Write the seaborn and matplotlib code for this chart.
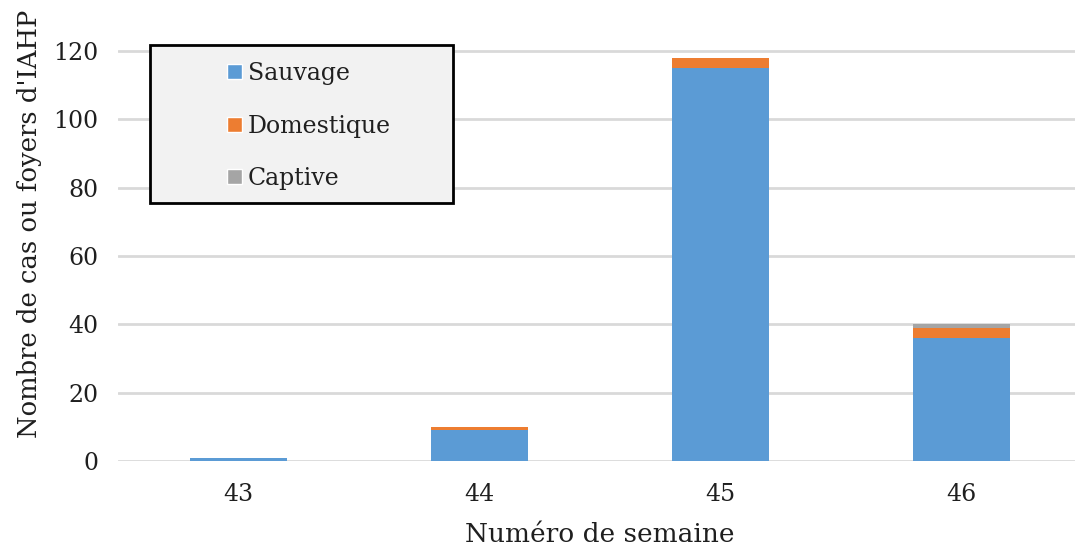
import matplotlib
matplotlib.use("Agg")
import matplotlib.pyplot as plt
import seaborn as sns
import pandas as pd
import numpy as np
from matplotlib.patches import Patch, Rectangle

weeks = ["43", "44", "45", "46"]
sauvage = [1, 9, 115, 36]
domestique = [0, 1, 3, 3]
captive = [0, 0, 0, 1]

c_sau = "#5b9bd5"
c_dom = "#ed7d31"
c_cap = "#a5a5a5"
txt = "#1f1f1f"

sns.set_theme(style="white")
plt.rcParams["font.family"] = ["DejaVu Serif"]

s = np.array(sauvage)
d = np.array(domestique)
c = np.array(captive)
df = pd.DataFrame({
    "week": weeks,
    "total": s + d + c,
    "sd": s + d,
    "s": s,
})

W, H = 1075, 549
fig = plt.figure(figsize=(W / 100, H / 100), dpi=100)
ax = fig.add_axes([118 / W, 1 - 461 / H, (1082 - 118) / W, (461 - 51) / H * 121 / 120])

for col, colr in [("total", c_cap), ("sd", c_dom), ("s", c_sau)]:
    sns.barplot(data=df, x="week", y=col, color=colr, width=0.4, saturation=1,
                ax=ax, zorder=3, linewidth=0, edgecolor="none")

ax.set_ylim(0, 121)
ax.set_xlim(-0.5, 3.5)
ax.set_yticks(range(0, 121, 20))
ax.yaxis.grid(True, color="#d9d9d9", linewidth=2, zorder=0)
ax.set_axisbelow(True)
for sp in ax.spines.values():
    sp.set_visible(False)
ax.tick_params(axis="both", length=0, labelsize=17, colors=txt)
ax.tick_params(axis="y", pad=14)
ax.tick_params(axis="x", pad=16)
ax.set_xlabel("")
ax.set_ylabel("")
fig.text(600 / W, 1 - 535 / H, "Numéro de semaine", fontsize=19, color=txt,
         ha="center", va="center")
fig.text(30 / W, 1 - 224 / H, "Nombre de cas ou foyers d'IAHP", fontsize=18.6, color=txt,
         ha="center", va="center", rotation=90)

# legend box
fig.patches.append(Rectangle((150 / W, 1 - 203 / H), (453 - 150) / W, (203 - 45) / H,
                             transform=fig.transFigure, facecolor="#f2f2f2",
                             edgecolor="black", linewidth=2, zorder=5))
handles = [Patch(facecolor=c_sau, label="Sauvage"),
           Patch(facecolor=c_dom, label="Domestique"),
           Patch(facecolor=c_cap, label="Captive")]
leg = fig.legend(handles=handles, loc="upper left",
                 bbox_to_anchor=(220 / W, 1 - 55 / H), bbox_transform=fig.transFigure,
                 fontsize=17, frameon=False,
                 handlelength=0.62, handleheight=0.62, handletextpad=0.25,
                 labelspacing=1.25, borderpad=0.3, borderaxespad=0)
leg.set_zorder(6)
for t in leg.get_texts():
    t.set_color(txt)

fig.savefig("out.png", dpi=100)
